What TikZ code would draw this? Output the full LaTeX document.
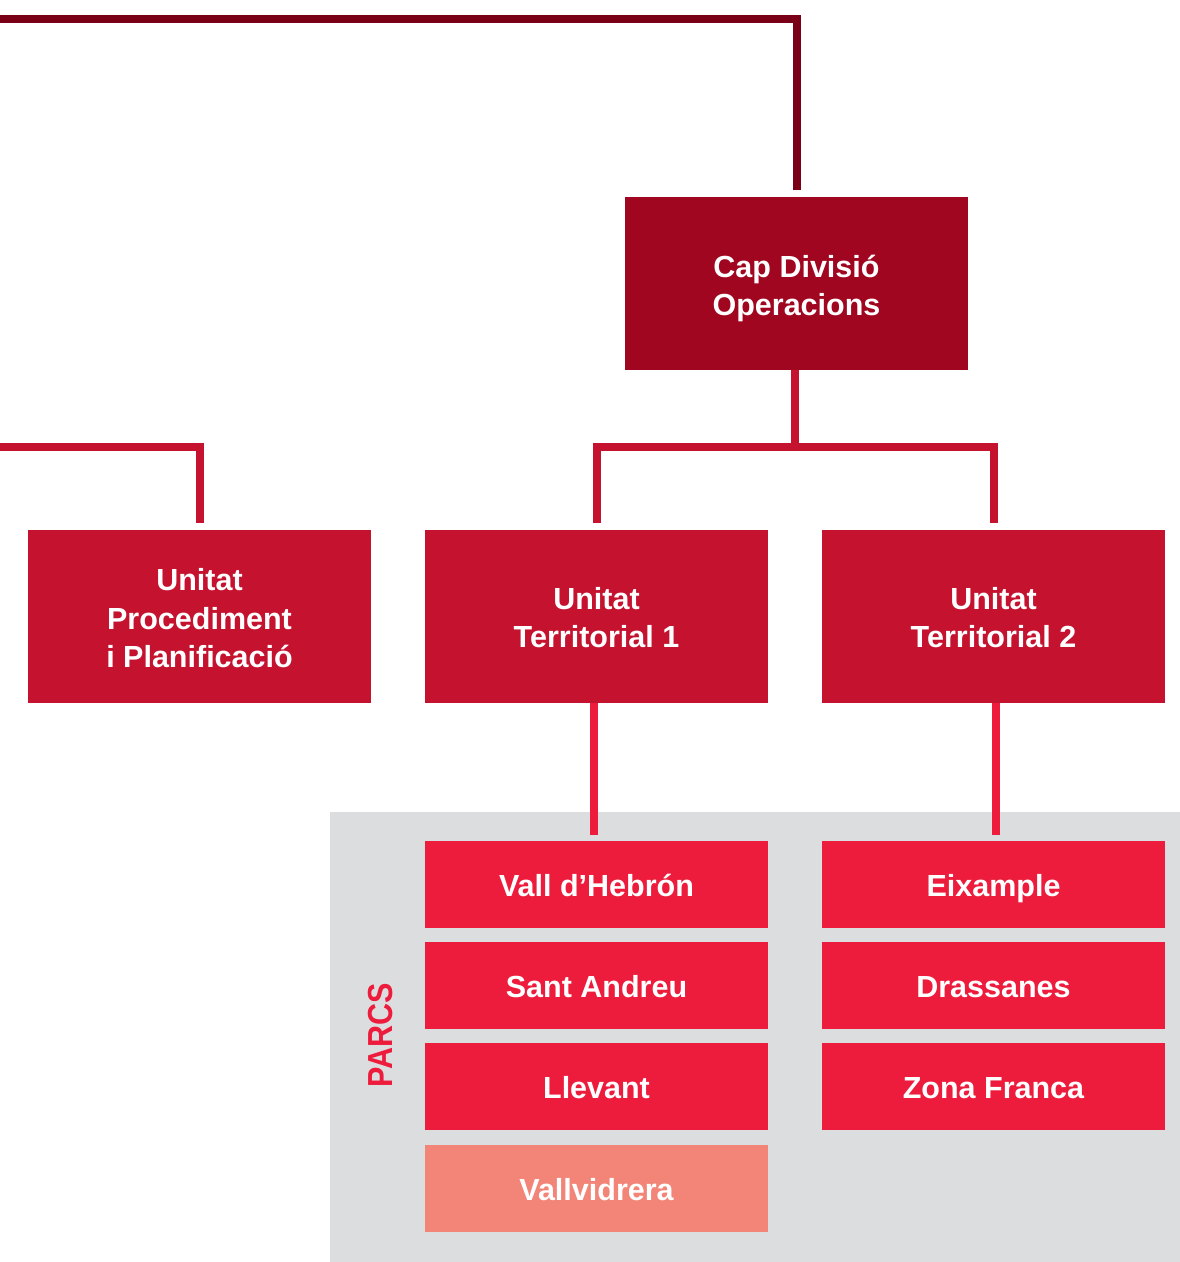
\documentclass[tikz,border=0pt]{standalone}
\usepackage{fontspec}
\setmainfont{Liberation Sans}
\definecolor{topdark}{HTML}{7A0018}
\definecolor{capred}{HTML}{A00620}
\definecolor{unitred}{HTML}{C4122F}
\definecolor{parkred}{HTML}{EE1C3C}
\definecolor{parklight}{HTML}{F28577}
\definecolor{greybg}{HTML}{DCDDDF}
\begin{document}
\begin{tikzpicture}[x=1pt,y=-1pt,
  box/.style={rectangle, inner sep=0pt, minimum width=343pt},
  bigbox/.style={box, minimum height=173pt},
  parkbox/.style={box, minimum height=87pt, fill=parkred},
  lbl/.style={anchor=base, inner sep=0pt, text=white,
    font=\bfseries\fontsize{30.5}{38.5}\selectfont},
  conn/.style={line width=8pt, line join=miter},
  gap/.style={shorten >=7pt}
]
\useasboundingbox (0,0) rectangle (1180,1262);
% grey area
\fill[greybg] (330,812) rectangle (1180,1262);

% boxes
\node[bigbox, fill=capred] (cap) at (796.5,283.5) {};
\node[bigbox, fill=unitred] (proc) at (199.5,616.5) {};
\node[bigbox, fill=unitred] (ut1) at (596.5,616.5) {};
\node[bigbox, fill=unitred] (ut2) at (993.5,616.5) {};

\node[parkbox] (vall) at (596.5,884.5) {};
\node[parkbox] (sant) at (596.5,985.5) {};
\node[parkbox] (llev) at (596.5,1086.5) {};
\node[parkbox, fill=parklight] (vallv) at (596.5,1188.5) {};

\node[parkbox] (eix) at (993.5,884.5) {};
\node[parkbox] (dras) at (993.5,985.5) {};
\node[parkbox] (zona) at (993.5,1086.5) {};

% texts
\node[lbl] (capa) at (796.5,277) {Cap Divisió};
\node[lbl] (capb) at (796.5,315) {Operacions};
\node[lbl] (proca) at (199.5,590.5) {Unitat};
\node[lbl] (procb) at (199.5,629) {Procediment};
\node[lbl] (procc) at (199.5,667.5) {i Planificació};
\node[lbl] (ut1a) at (596.5,609) {Unitat};
\node[lbl] (ut1b) at (596.5,647) {Territorial 1};
\node[lbl] (ut2a) at (993.5,609) {Unitat};
\node[lbl] (ut2b) at (993.5,647) {Territorial 2};

\node[lbl] (vallt) at (596.5,896.5) {Vall d’Hebrón};
\node[lbl] (santt) at (596.5,997.5) {Sant Andreu};
\node[lbl] (llevt) at (596.5,1098.5) {Llevant};
\node[lbl] (vallvt) at (596.5,1200) {Vallvidrera};
\node[lbl] (eixt) at (993.5,896.5) {Eixample};
\node[lbl] (drast) at (993.5,997.5) {Drassanes};
\node[lbl] (zonat) at (993.5,1098.5) {Zona Franca};

\node[rotate=90, text=parkred, font=\bfseries\fontsize{30.5}{30.5}\selectfont] (parcs) at (380.5,1035.5)
  {\scalebox{1}[1.14]{PARCS}};

% connectors
\coordinate (tl) at (0,19);
\draw[conn, topdark, gap] (tl) -| (cap.north);

\coordinate (ll) at (0,447);
\draw[conn, unitred, gap] (ll) -| (proc.north);

\coordinate (j) at (795,447);
\draw[conn, unitred] (cap.south -| j) -- (j);
\draw[conn, unitred, shorten <=7pt, shorten >=7pt] (ut1.north) |- (j) -| (ut2.north);

\draw[conn, parkred, shorten >=6pt] ([xshift=-2.5pt]ut1.south) -- ([xshift=-2.5pt]vall.north);
\draw[conn, parkred, shorten >=6pt] ([xshift=2.5pt]ut2.south) -- ([xshift=2.5pt]eix.north);
\end{tikzpicture}
\end{document}
